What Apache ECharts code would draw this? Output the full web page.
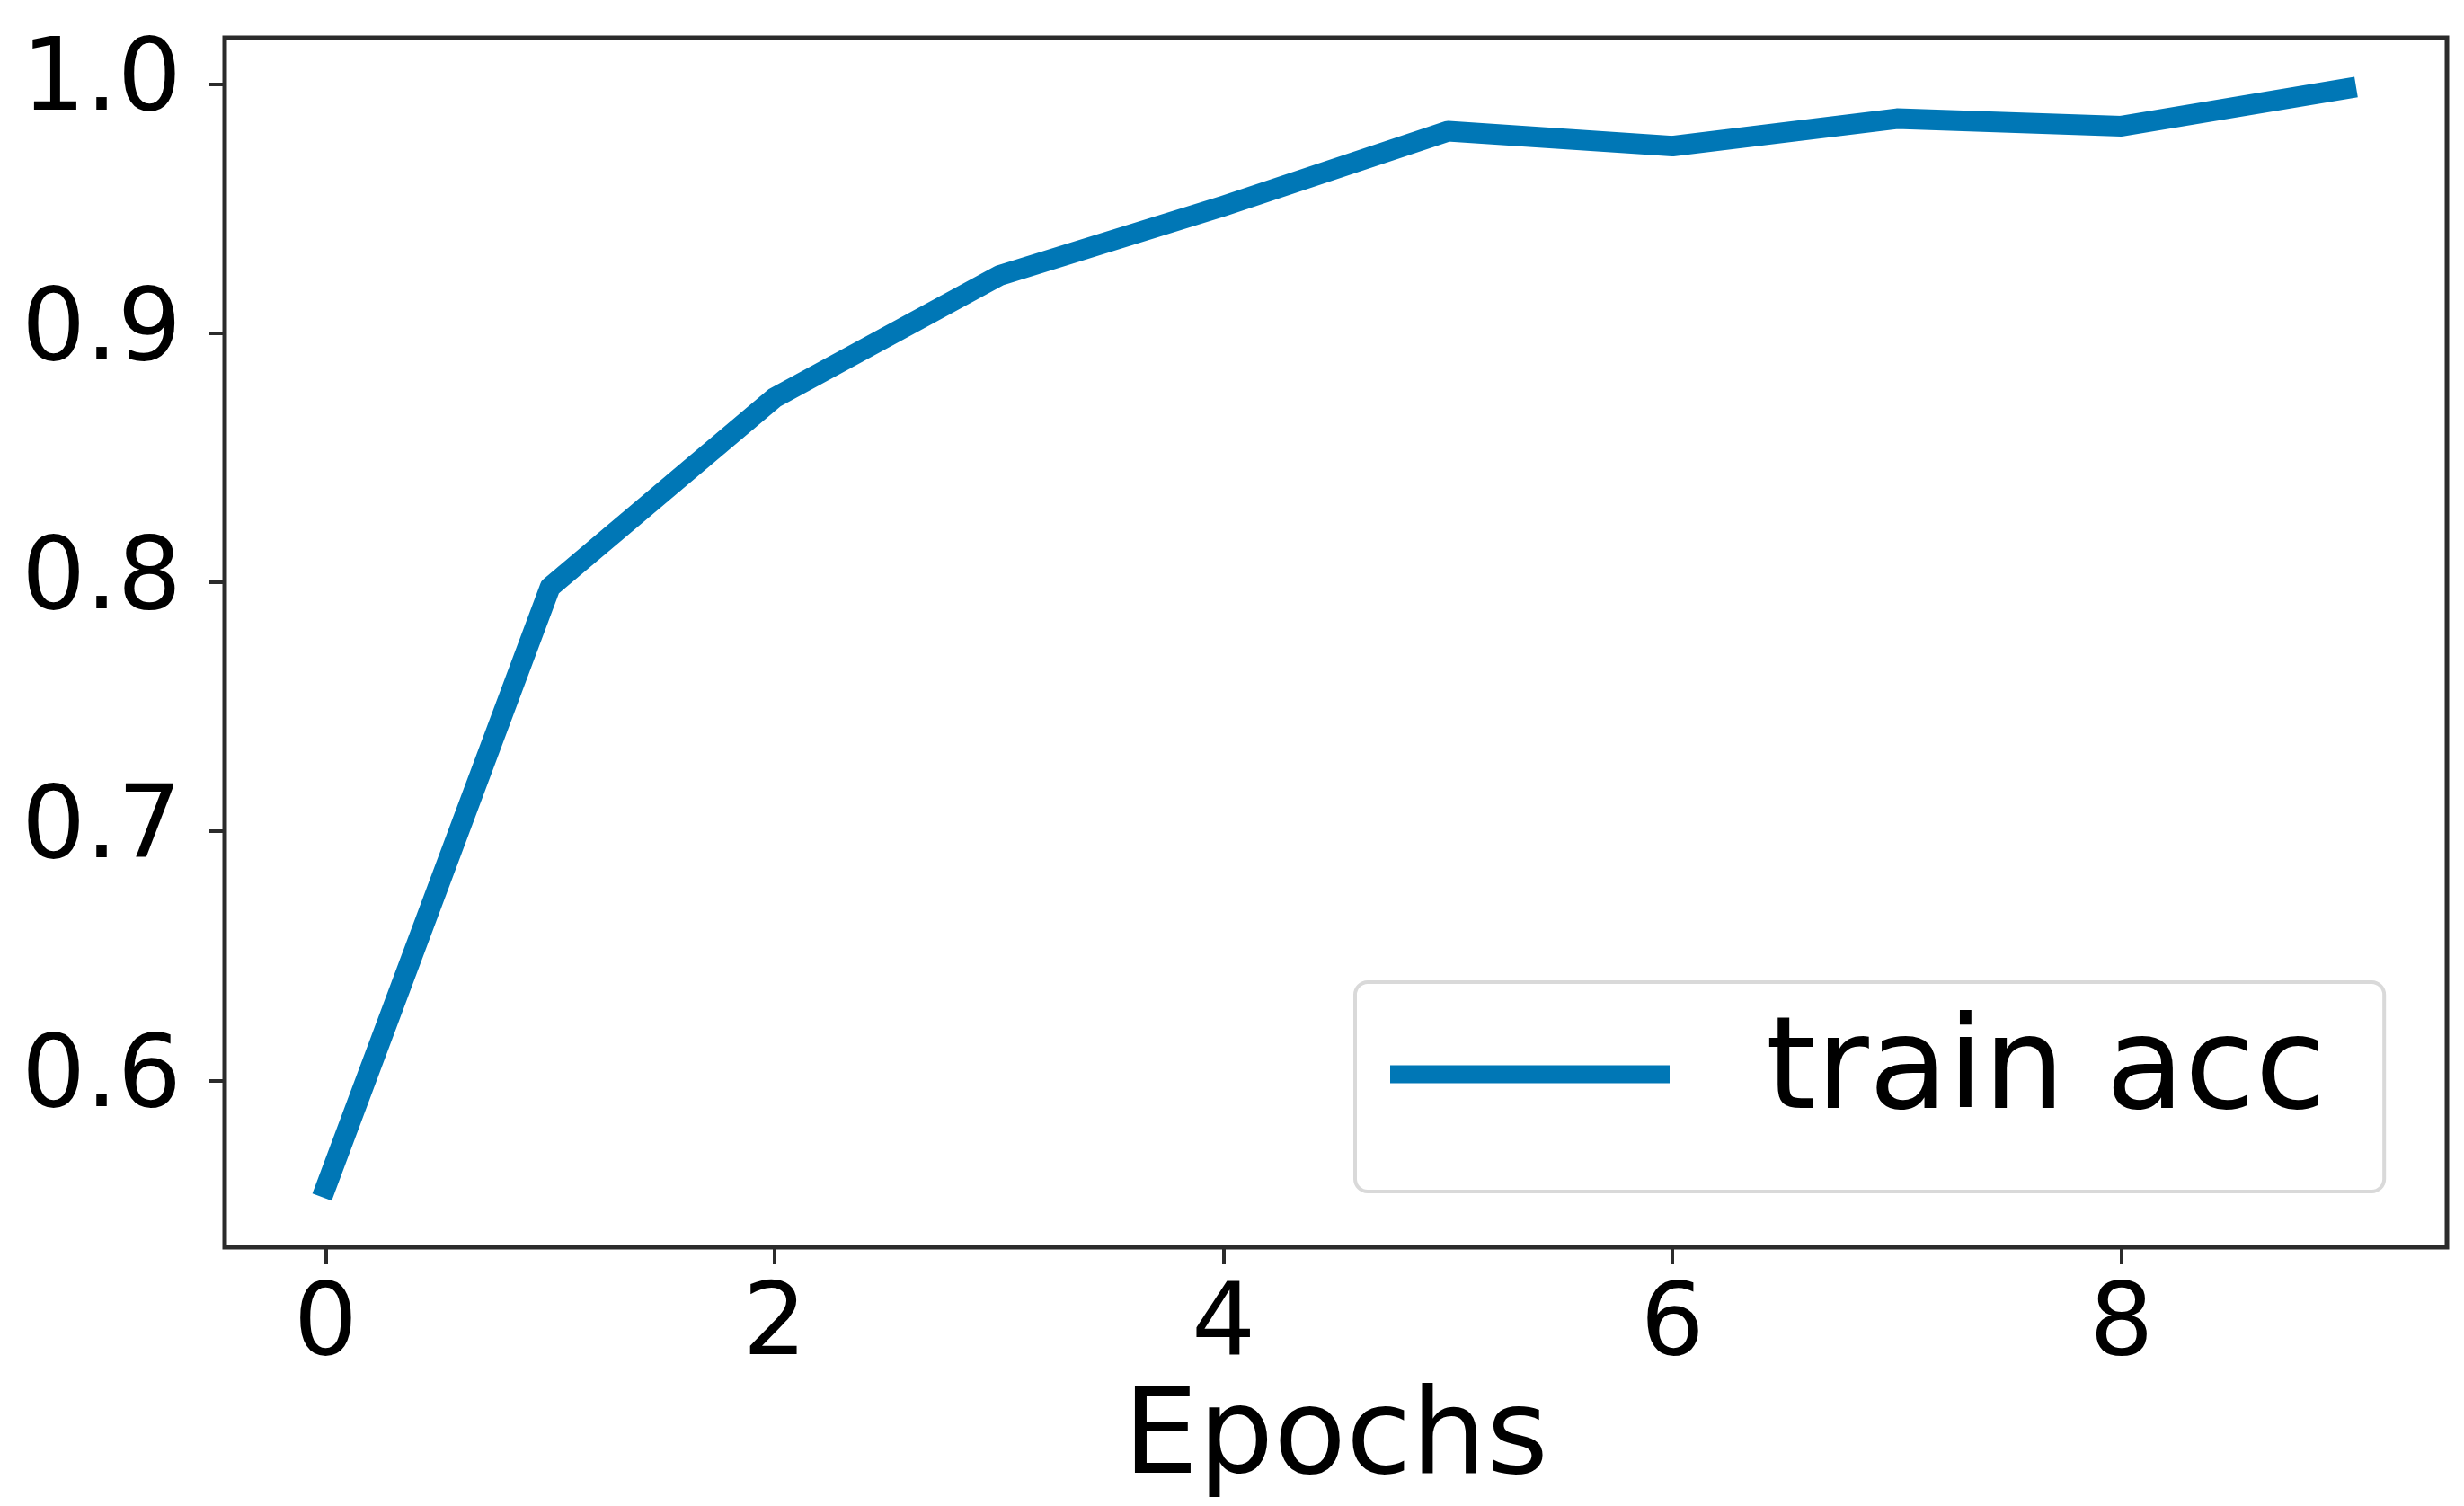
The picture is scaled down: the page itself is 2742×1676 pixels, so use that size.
<!DOCTYPE html>
<html>
<head>
<meta charset="utf-8">
<script src="https://cdn.jsdelivr.net/npm/echarts@6/dist/echarts.min.js"></script>
<style>
  html, body { margin: 0; padding: 0; background: #ffffff; }
  #chart { width: 2742px; height: 1676px; }
</style>
</head>
<body>
<div id="chart"></div>
<script>
// ---- data ----
const epochs = [0, 1, 2, 3, 4, 5, 6, 7, 8, 9];
const trainAcc = [0.557, 0.798, 0.874, 0.923, 0.951, 0.981, 0.975, 0.986, 0.983, 0.998];
const xTicks = [0, 2, 4, 6, 8];
const yTicks = [0.6, 0.7, 0.8, 0.9, 1.0];
const seriesName = 'train acc';
const xLabel = 'Epochs';

const points = epochs.map((e, i) => [e, trainAcc[i]]);

const FONT = 'DejaVu Sans';
const AX = '#2b2b2b';

const chart = echarts.init(document.getElementById('chart'), null, { renderer: 'canvas' });
chart.setOption({
  animation: false,
  backgroundColor: '#ffffff',
  grid: {
    left: 250, right: 19, top: 42, bottom: 285,
    show: true, borderColor: AX, borderWidth: 5, backgroundColor: 'transparent'
  },
  xAxis: {
    type: 'value',
    min: -0.45, max: 9.45,
    splitLine: { show: false },
    axisLine: { show: false, onZero: false },
    axisTick: { show: true, customValues: xTicks, length: 19, lineStyle: { color: AX, width: 4 } },
    axisLabel: {
      customValues: xTicks, margin: 34,
      color: '#000', fontFamily: FONT, fontSize: 112,
      formatter: v => String(v)
    },
    name: xLabel, nameLocation: 'middle', nameGap: 150,
    nameTextStyle: { color: '#000', fontFamily: FONT, fontSize: 132, verticalAlign: 'top' }
  },
  yAxis: {
    type: 'value',
    min: 0.533, max: 1.0185,
    splitLine: { show: false },
    axisLine: { show: false, onZero: false },
    axisTick: { show: true, customValues: yTicks, length: 17, lineStyle: { color: AX, width: 4 } },
    axisLabel: {
      customValues: yTicks, margin: 48,
      color: '#000', fontFamily: FONT, fontSize: 112,
      formatter: v => v.toFixed(1)
    }
  },
  legend: {
    show: true,
    selectedMode: false,
    left: 1508, top: 1093,
    orient: 'horizontal',
    padding: [22, 65, 50, 39],
    backgroundColor: '#ffffff',
    borderColor: '#d9d9d9', borderWidth: 4, borderRadius: 14,
    itemWidth: 311, itemHeight: 20,
    icon: 'rect',
    itemStyle: { color: '#0077b6' },
    textStyle: { color: '#000', fontFamily: FONT, fontSize: 143, lineHeight: 143, padding: [18, 0, 0, 102] },
    data: [seriesName]
  },
  series: [{
    name: seriesName,
    type: 'line',
    data: points,
    showSymbol: false,
    symbol: 'none',
    clip: false,
    color: '#0077b6',
    lineStyle: { color: '#0077b6', width: 23, cap: 'square', join: 'round' }
  }]
});
</script>
</body>
</html>
